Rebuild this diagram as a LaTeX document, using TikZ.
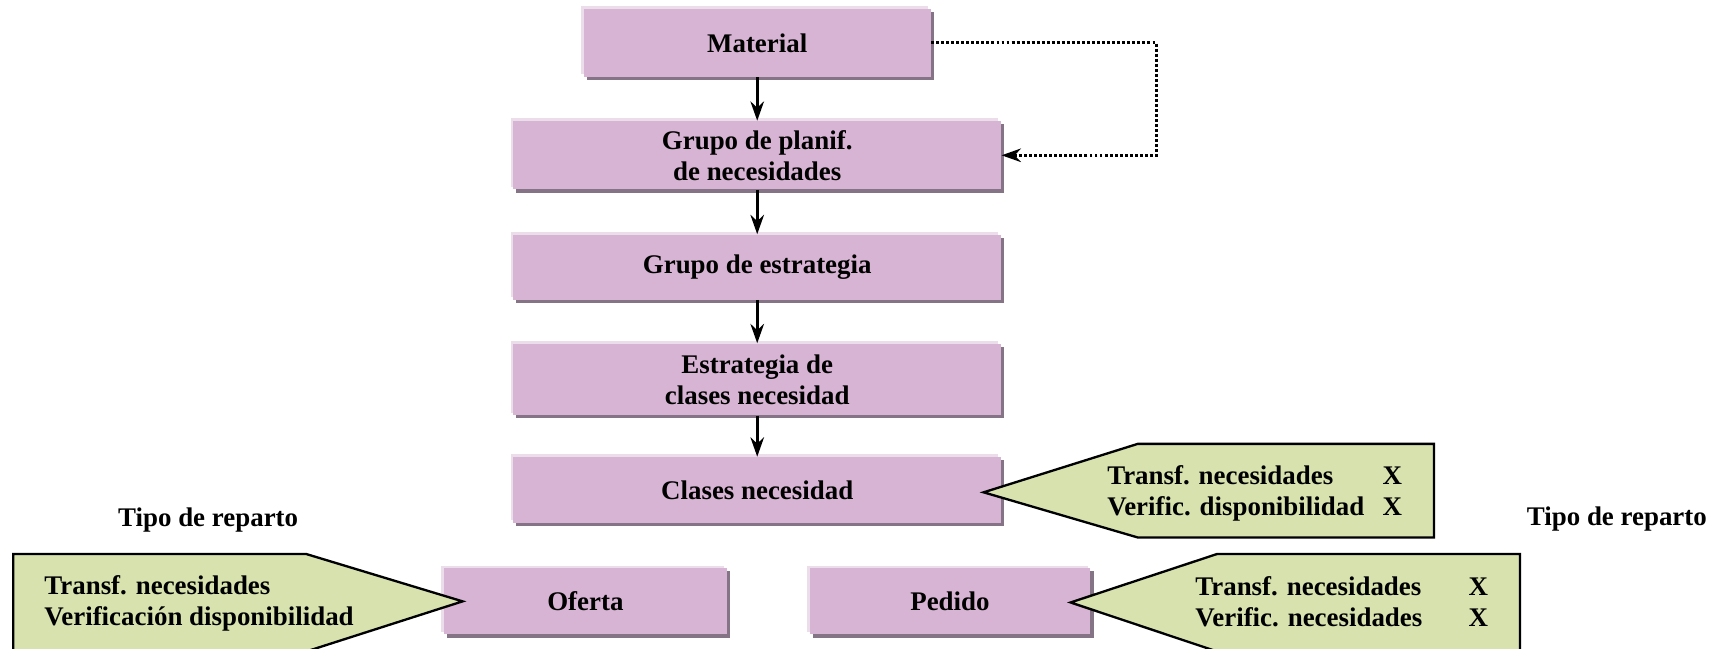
\documentclass[tikz,border=0pt]{standalone}
\usepackage{fontspec}
\setmainfont{Liberation Serif}
\usetikzlibrary{arrows.meta,shadows}
\definecolor{boxpink}{HTML}{D8B4D4}
\definecolor{boxshade}{HTML}{857486}
\definecolor{boxlight}{HTML}{EBDDEA}
\definecolor{notegreen}{HTML}{D7E2AE}

\tikzset{
  pinkbox/.style={fill=boxpink, minimum height=1.2cm, inner sep=2pt, align=center,
    general shadow={shadow xshift=-1.4pt, shadow yshift=1.4pt, fill=boxlight},
    drop shadow={shadow xshift=1.6pt, shadow yshift=-1.6pt, fill=boxshade, opacity=1}},
  flow/.style={-{Stealth[length=10pt,width=7pt]}, line width=1.4pt},
  note/.style={draw=black, line width=1.2pt, fill=notegreen, line join=miter},
}

\begin{document}
\begin{tikzpicture}[font=\bfseries\fontsize{13.9}{16}\selectfont]
  \useasboundingbox (0,0) rectangle (31.36,11.78);

  % ---------- main chain ----------
  \node[pinkbox, minimum width=6.3cm, minimum height=1.24cm] (mat) at (13.75,11.0) {Material};
  \node[pinkbox, minimum width=8.86cm, minimum height=1.24cm] (plan) at (13.75,8.96) {Grupo de planif.\\ de necesidades};
  \node[pinkbox, minimum width=8.86cm, minimum height=1.18cm] (estg) at (13.75,6.93) {Grupo de estrategia};
  \node[pinkbox, minimum width=8.86cm, minimum height=1.3cm] (estc) at (13.75,4.89) {Estrategia de\\ clases necesidad};
  \node[pinkbox, minimum width=8.86cm] (clas) at (13.75,2.88) {Clases necesidad};

  \draw[flow] (mat) -- (plan);
  \draw[flow] (plan) -- (estg);
  \draw[flow] (estg) -- (estc);
  \draw[flow] (estc) -- (clas);

  % dotted shortcut
  \draw[flow, line width=1.5pt, dash pattern=on 1.5pt off 1.1pt] (mat.east) -- ++(4.1,0) |- (plan.east);

  % ---------- delivery types ----------
  \node[pinkbox, minimum width=5.14cm] (ofer) at (10.63,0.86) {Oferta};
  \node[pinkbox, minimum width=5.1cm] (pedi) at (17.25,0.86) {Pedido};

  \node (tipol) at (3.78,2.34) {Tipo de reparto};
  \node (tipor) at (29.36,2.36) {Tipo de reparto};

  % callouts
  \draw[note] (17.86,2.84) -- (20.66,3.72) -- (26.04,3.72) -- (26.04,2.02) -- (20.66,2.02) -- cycle;
  \node[anchor=west, inner sep=0pt] (clastxt) at (20.1,2.82)
    {\begin{tabular}{@{}p{5cm}@{}l@{}}Transf. necesidades & X\\ Verific. disponibilidad & X\end{tabular}};

  \draw[note] (0.24,1.72) -- (5.56,1.72) -- (8.4,0.86) -- (5.56,-0.05) -- (0.24,-0.05) -- cycle;
  \node[anchor=west, inner sep=0pt, align=left] (ofertxt) at (0.8,0.82)
    {Transf. necesidades\\ Verificación disponibilidad};

  \draw[note] (19.44,0.84) -- (22.1,1.72) -- (27.6,1.72) -- (27.6,-0.05) -- (22.1,-0.05) -- cycle;
  \node[anchor=west, inner sep=0pt] (peditxt) at (21.7,0.8)
    {\begin{tabular}{@{}p{4.96cm}@{}l@{}}Transf. necesidades & X\\ Verific. necesidades & X\end{tabular}};
\end{tikzpicture}
\end{document}
